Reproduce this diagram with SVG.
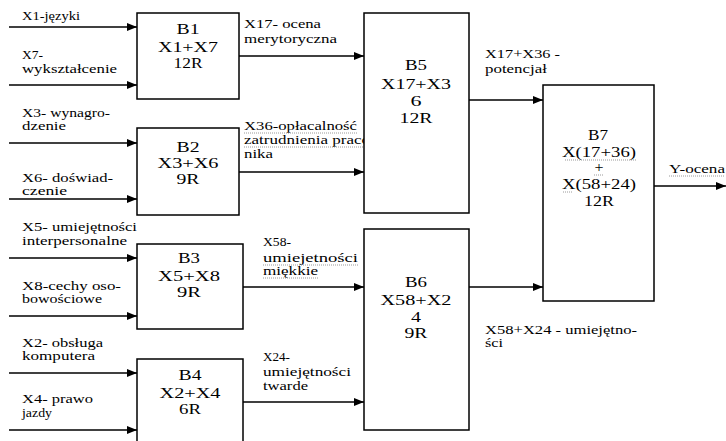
<svg xmlns="http://www.w3.org/2000/svg" width="726" height="441" viewBox="0 0 726 441">
<style>
  .box { fill: #fff; stroke: #000; stroke-width: 1.5; }
  .conn { stroke: #000; stroke-width: 1.5; fill: none; marker-end: url(#arr); }
  .lbl { font-family: 'Liberation Serif', 'DejaVu Serif', 'Noto Serif', serif; font-size: 11.5px; fill: #000; }
  .bt { font-family: 'Liberation Serif', 'DejaVu Serif', 'Noto Serif', serif; font-size: 14px; fill: #000; text-anchor: middle; }
  .sq { stroke: #9a9a9a; stroke-width: 1; stroke-dasharray: 1 1; fill: none; }
</style>
<defs>
  <marker id="arr" markerWidth="10" markerHeight="8" refX="10" refY="4" orient="auto" markerUnits="userSpaceOnUse">
    <path d="M0,0 L10,4 L0,8 Z" fill="#000"/>
  </marker>
</defs>
<rect width="726" height="441" fill="#fff"/>

<g id="connectors">
  <line class="conn" x1="9" y1="27" x2="137" y2="27"/>
  <line class="conn" x1="9" y1="85" x2="137" y2="85"/>
  <line class="conn" x1="9" y1="143" x2="137" y2="143"/>
  <line class="conn" x1="9" y1="199" x2="137" y2="199"/>
  <line class="conn" x1="9" y1="258" x2="137" y2="258"/>
  <line class="conn" x1="9" y1="316" x2="137" y2="316"/>
  <line class="conn" x1="9" y1="373" x2="137" y2="373"/>
  <line class="conn" x1="9" y1="430" x2="137" y2="430"/>
  <line class="conn" x1="239" y1="56" x2="364" y2="56"/>
  <line class="conn" x1="239" y1="172" x2="364" y2="172"/>
  <line class="conn" x1="243" y1="287" x2="364" y2="287"/>
  <line class="conn" x1="243" y1="402" x2="364" y2="402"/>
  <line class="conn" x1="469" y1="100" x2="543" y2="100"/>
  <line class="conn" x1="469" y1="287" x2="543" y2="287"/>
  <line class="conn" x1="654" y1="186" x2="726" y2="186"/>
</g>

<g id="labels">
  <text class="lbl" x="22" y="20" textLength="58" lengthAdjust="spacingAndGlyphs">X1-języki</text>
  <text class="lbl" x="22" y="59" textLength="21" lengthAdjust="spacingAndGlyphs">X7-</text>
  <text class="lbl" x="22" y="73" textLength="95" lengthAdjust="spacingAndGlyphs">wykształcenie</text>
  <text class="lbl" x="22" y="117" textLength="88" lengthAdjust="spacingAndGlyphs">X3- wynagro-</text>
  <text class="lbl" x="22" y="130" textLength="44" lengthAdjust="spacingAndGlyphs">dzenie</text>
  <text class="lbl" x="22" y="182" textLength="91" lengthAdjust="spacingAndGlyphs">X6- doświad-</text>
  <text class="lbl" x="22" y="195" textLength="45" lengthAdjust="spacingAndGlyphs">czenie</text>
  <text class="lbl" x="22" y="231" textLength="115" lengthAdjust="spacingAndGlyphs">X5- umiejętności</text>
  <text class="lbl" x="22" y="245" textLength="105" lengthAdjust="spacingAndGlyphs">interpersonalne</text>
  <text class="lbl" x="22" y="290" textLength="99" lengthAdjust="spacingAndGlyphs">X8-cechy oso-</text>
  <text class="lbl" x="22" y="303" textLength="80" lengthAdjust="spacingAndGlyphs">bowościowe</text>
  <text class="lbl" x="22" y="347" textLength="81" lengthAdjust="spacingAndGlyphs">X2- obsługa</text>
  <text class="lbl" x="22" y="360" textLength="73" lengthAdjust="spacingAndGlyphs">komputera</text>
  <text class="lbl" x="22" y="403" textLength="71" lengthAdjust="spacingAndGlyphs">X4- prawo</text>
  <text class="lbl" x="22" y="417" textLength="30" lengthAdjust="spacingAndGlyphs">jazdy</text>

  <text class="lbl" x="244" y="28" textLength="77" lengthAdjust="spacingAndGlyphs">X17- ocena</text>
  <text class="lbl" x="244" y="43" textLength="93" lengthAdjust="spacingAndGlyphs">merytoryczna</text>
  <text class="lbl" x="244" y="130" textLength="113" lengthAdjust="spacingAndGlyphs">X36-opłacalność</text>
  <text class="lbl" x="244" y="144" textLength="126" lengthAdjust="spacingAndGlyphs">zatrudnienia praco</text>
  <text class="lbl" x="244" y="158" textLength="29" lengthAdjust="spacingAndGlyphs">nika</text>
  <text class="lbl" x="263" y="246" textLength="28" lengthAdjust="spacingAndGlyphs">X58-</text>
  <text class="lbl" x="263" y="262" textLength="95" lengthAdjust="spacingAndGlyphs">umiejetności</text>
  <text class="lbl" x="263" y="275" textLength="55" lengthAdjust="spacingAndGlyphs">miękkie</text>
  <text class="lbl" x="263" y="361" textLength="27" lengthAdjust="spacingAndGlyphs">X24-</text>
  <text class="lbl" x="263" y="376" textLength="88" lengthAdjust="spacingAndGlyphs">umiejętności</text>
  <text class="lbl" x="263" y="390" textLength="45" lengthAdjust="spacingAndGlyphs">twarde</text>

  <text class="lbl" x="485" y="58" textLength="75" lengthAdjust="spacingAndGlyphs">X17+X36 -</text>
  <text class="lbl" x="485" y="73" textLength="62" lengthAdjust="spacingAndGlyphs">potencjał</text>
  <text class="lbl" x="485" y="334" textLength="152" lengthAdjust="spacingAndGlyphs">X58+X24 - umiejętno-</text>
  <text class="lbl" x="485" y="347" textLength="18" lengthAdjust="spacingAndGlyphs">ści</text>
  <text class="lbl" x="669" y="173" textLength="56" lengthAdjust="spacingAndGlyphs">Y-ocena</text>

  <path class="sq" d="M244,133 H357 M244,147 H364 M263,265 H358 M263,278 H318 M669,176 H725"/>
</g>

<g id="B1">
  <rect class="box" x="137" y="13" width="102" height="86"/>
  <text class="bt" x="188" y="34" textLength="23" lengthAdjust="spacingAndGlyphs">B1</text>
  <text class="bt" x="188" y="52" textLength="60" lengthAdjust="spacingAndGlyphs">X1+X7</text>
  <text class="bt" x="188" y="68" textLength="29" lengthAdjust="spacingAndGlyphs">12R</text>
</g>

<g id="B2">
  <rect class="box" x="137" y="128" width="102" height="87"/>
  <text class="bt" x="188" y="152" textLength="23" lengthAdjust="spacingAndGlyphs">B2</text>
  <text class="bt" x="188" y="168" textLength="61" lengthAdjust="spacingAndGlyphs">X3+X6</text>
  <text class="bt" x="188" y="184" textLength="23" lengthAdjust="spacingAndGlyphs">9R</text>
</g>

<g id="B3">
  <rect class="box" x="137" y="244" width="106" height="85"/>
  <text class="bt" x="189" y="263" textLength="22" lengthAdjust="spacingAndGlyphs">B3</text>
  <text class="bt" x="189" y="281" textLength="62" lengthAdjust="spacingAndGlyphs">X5+X8</text>
  <text class="bt" x="189" y="297" textLength="24" lengthAdjust="spacingAndGlyphs">9R</text>
</g>

<g id="B4">
  <rect class="box" x="137" y="359" width="106" height="90"/>
  <text class="bt" x="190" y="380" textLength="23" lengthAdjust="spacingAndGlyphs">B4</text>
  <text class="bt" x="190" y="398" textLength="61" lengthAdjust="spacingAndGlyphs">X2+X4</text>
  <text class="bt" x="190" y="414" textLength="22" lengthAdjust="spacingAndGlyphs">6R</text>
</g>

<g id="B5">
  <rect class="box" x="364" y="13" width="105" height="200"/>
  <text class="bt" x="416" y="70" textLength="22" lengthAdjust="spacingAndGlyphs">B5</text>
  <text class="bt" x="416" y="89" textLength="70" lengthAdjust="spacingAndGlyphs">X17+X3</text>
  <text class="bt" x="416" y="106" textLength="11" lengthAdjust="spacingAndGlyphs">6</text>
  <text class="bt" x="416" y="123" textLength="33" lengthAdjust="spacingAndGlyphs">12R</text>
</g>

<g id="B6">
  <rect class="box" x="364" y="229" width="105" height="201"/>
  <text class="bt" x="416" y="287" textLength="22" lengthAdjust="spacingAndGlyphs">B6</text>
  <text class="bt" x="416" y="305" textLength="71" lengthAdjust="spacingAndGlyphs">X58+X2</text>
  <text class="bt" x="416" y="322" textLength="10" lengthAdjust="spacingAndGlyphs">4</text>
  <text class="bt" x="416" y="338" textLength="23" lengthAdjust="spacingAndGlyphs">9R</text>
</g>

<g id="B7">
  <rect class="box" x="543" y="85" width="111" height="216"/>
  <text class="bt" x="598" y="140" textLength="20" lengthAdjust="spacingAndGlyphs">B7</text>
  <text class="bt" x="599" y="157" textLength="74" lengthAdjust="spacingAndGlyphs">X(17+36)</text>
  <text class="bt" x="599" y="172" textLength="9" lengthAdjust="spacingAndGlyphs">+</text>
  <text class="bt" x="599" y="189" textLength="74" lengthAdjust="spacingAndGlyphs">X(58+24)</text>
  <text class="bt" x="599" y="206" textLength="30" lengthAdjust="spacingAndGlyphs">12R</text>
  <path class="sq" d="M565,160 H636 M594,175 H604 M563,192 H573"/>
</g>
</svg>
